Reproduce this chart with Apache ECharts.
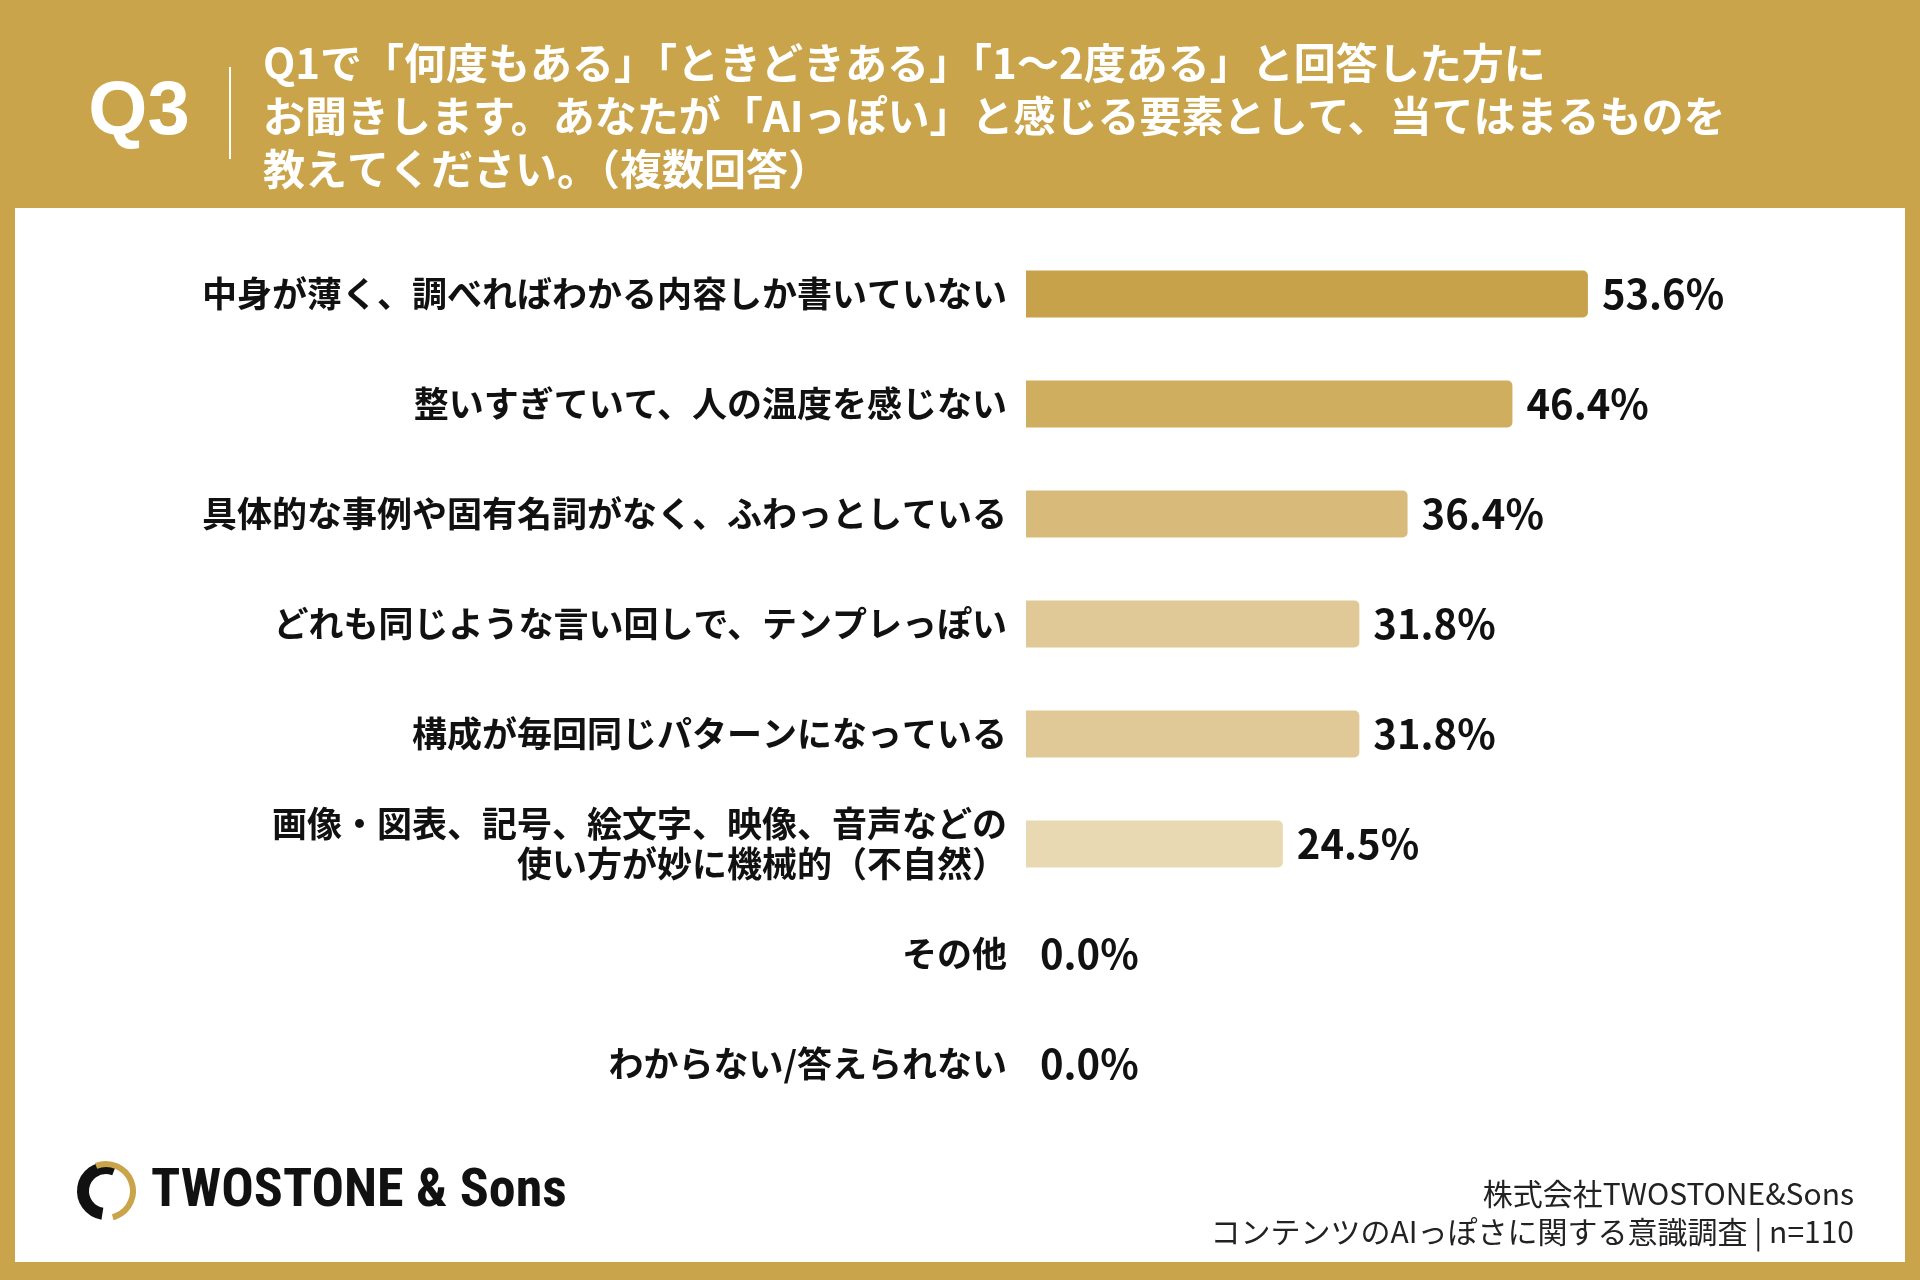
<!DOCTYPE html>
<html lang="ja">
<head>
<meta charset="utf-8">
<title>Q3 AIっぽいと感じる要素</title>
<script src="https://cdn.jsdelivr.net/npm/echarts@6/dist/echarts.min.js"></script>
<style>
  html, body { margin: 0; padding: 0; background: #c9a44a; }
  #chart { width: 1920px; height: 1280px; }
</style>
</head>
<body>
<div id="chart"></div>
<script>
  // data (n=110, multiple answers)
  const categories = [
    "中身が薄く、調べればわかる内容しか書いていない",
    "整いすぎていて、人の温度を感じない",
    "具体的な事例や固有名詞がなく、ふわっとしている",
    "どれも同じような言い回しで、テンプレっぽい",
    "構成が毎回同じパターンになっている",
    "画像・図表、記号、絵文字、映像、音声などの\n使い方が妙に機械的（不自然）",
    "その他",
    "わからない/答えられない",
  ];
  const values = [53.6, 46.4, 36.4, 31.8, 31.8, 24.5, 0.0, 0.0];

  const titleLines = [
    "Q1で「何度もある」「ときどきある」「1〜2度ある」と回答した方に",
    "お聞きします。あなたが「AIっぽい」と感じる要素として、当てはまるものを",
    "教えてください。（複数回答）",
  ];
  const sourceLines = [
    "株式会社TWOSTONE&Sons",
    "コンテンツのAIっぽさに関する意識調査 | n=110",
  ];

  const GOLD = "#c9a44a";
  const barColors = ["#c8a24a", "#cfae5f", "#d8bb7a", "#e0c996", "#e0c996", "#e9d9b3", "#eee2c5", "#eee2c5"];
  const JP = '"Noto Sans CJK JP", "Noto Sans", sans-serif';

  const chart = echarts.init(document.getElementById("chart"));

  chart.setOption({
    backgroundColor: GOLD,
    animation: false,
    grid: {
      left: 1026,
      top: 239,
      width: 629,
      height: 880,
      containLabel: false,
    },
    xAxis: {
      type: "value",
      min: 0,
      max: 60,
      show: false,
    },
    yAxis: {
      type: "category",
      data: categories,
      inverse: true,
      axisLine: { show: false },
      axisTick: { show: false },
      splitLine: { show: false },
      axisLabel: {
        margin: 19,
        fontSize: 35,
        fontWeight: "bold",
        fontFamily: JP,
        color: "#111",
        lineHeight: 40,
        align: "right",
      },
    },
    graphic: [
      // white panel
      {
        type: "rect",
        z: -10,
        shape: { x: 15, y: 208, width: 1890, height: 1054 },
        style: { fill: "#fff" },
      },
      // header
      {
        type: "text",
        x: 139,
        y: 113,
        style: {
          text: "Q3",
          fill: "#fff",
          fontSize: 76,
          fontWeight: "bold",
          fontFamily: '"Liberation Sans", Arial, sans-serif',
          textAlign: "center",
          textVerticalAlign: "middle",
        },
      },
      {
        type: "line",
        shape: { x1: 230, y1: 67, x2: 230, y2: 159 },
        style: { stroke: "#fff", lineWidth: 2 },
      },
      {
        type: "text",
        x: 263,
        y: 37,
        style: {
          text: titleLines.join("\n"),
          fill: "#fff",
          fontSize: 42,
          fontWeight: "bold",
          fontFamily: JP,
          lineHeight: 53,
          textAlign: "left",
          textVerticalAlign: "top",
        },
      },
      // logo
      {
        type: "arc",
        shape: { cx: 106, cy: 1191, r: 23, startAngle: Math.PI * 0.55, endAngle: Math.PI * 1.62, clockwise: true },
        style: { stroke: "#111", lineWidth: 12, fill: null },
      },
      {
        type: "arc",
        shape: { cx: 106, cy: 1191, r: 27, startAngle: Math.PI * 1.38, endAngle: Math.PI * 2.42, clockwise: true },
        style: { stroke: GOLD, lineWidth: 6, fill: null },
      },
      {
        type: "text",
        x: 151,
        y: 1192,
        style: {
          text: "TWOSTONE & Sons",
          fill: "#111",
          fontSize: 54,
          fontWeight: "bold",
          fontFamily: '"Liberation Sans Narrow", "Roboto Condensed", Roboto, sans-serif',
          textAlign: "left",
          textVerticalAlign: "middle",
        },
      },
      // source
      {
        type: "text",
        x: 1854,
        y: 1194,
        style: {
          text: sourceLines[0],
          fill: "#222",
          fontSize: 30,
          fontFamily: JP,
          textAlign: "right",
          textVerticalAlign: "middle",
        },
      },
      {
        type: "text",
        x: 1854,
        y: 1232,
        style: {
          text: sourceLines[1],
          fill: "#222",
          fontSize: 30,
          fontFamily: JP,
          textAlign: "right",
          textVerticalAlign: "middle",
        },
      },
    ],
    series: [
      {
        type: "bar",
        barWidth: 47,
        data: values.map((v, i) => ({
          value: v,
          itemStyle: { color: barColors[i] },
        })),
        itemStyle: { borderRadius: [0, 5, 5, 0] },
        label: {
          show: true,
          position: "right",
          distance: 14,
          formatter: (p) => p.value.toFixed(1) + "%",
          fontSize: 40,
          fontWeight: "bold",
          fontFamily: JP,
          color: "#111",
        },
      },
    ],
  });
</script>
</body>
</html>
